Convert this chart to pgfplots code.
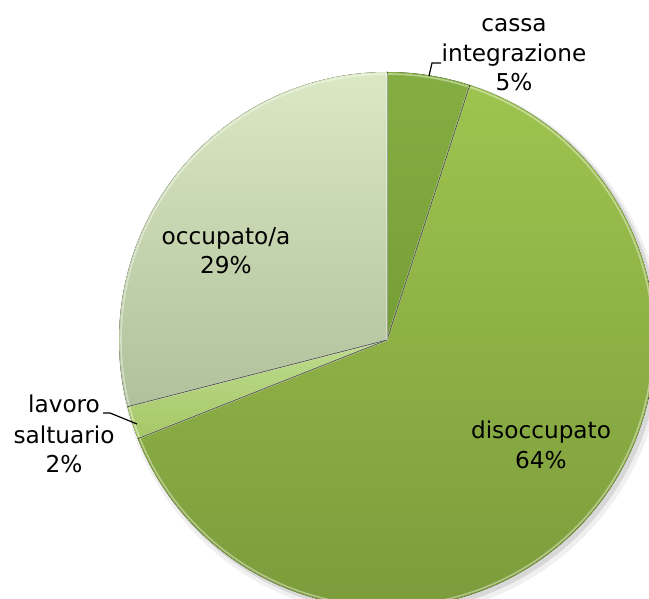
\documentclass[border=0pt]{standalone}
\usepackage{pgfplots}
\usepackage{pgfplotstable}
\pgfplotsset{compat=1.18}
\usepackage{fontspec}
\setmainfont{DejaVu Sans}

\definecolor{slc0top}{HTML}{84AE42}
\definecolor{slc0bot}{HTML}{769E36}
\definecolor{slc1top}{HTML}{9EC44F}
\definecolor{slc1bot}{HTML}{7A993A}
\definecolor{slc2top}{HTML}{BEDC8E}
\definecolor{slc2bot}{HTML}{A6C767}
\definecolor{slc3top}{HTML}{DAE8C3}
\definecolor{slc3bot}{HTML}{B0C19B}

\pgfplotstableread{
label value
cassa 5
disoccupato 64
lavoro 2
occupato 29
}\piedata

\begin{document}
\begin{tikzpicture}
\begin{axis}[
  x=0.75pt, y=0.75pt,
  xmin=0, xmax=649, ymin=0, ymax=599,
  hide axis, clip=true,
  anchor=south west, at={(0,0)},
]
% soft drop shadow
\fill[black, opacity=0.06] (axis cs:391,254) circle[radius=204pt];
\fill[black, opacity=0.10] (axis cs:390,256) circle[radius=202pt];
\pgfmathsetmacro\cum{0}
\pgfplotsforeachungrouped \i in {0,...,3}{%
  \pgfplotstablegetelem{\i}{value}\of\piedata
  \let\v\pgfplotsretval
  \pgfmathsetmacro\sa{90-3.6*\cum}%
  \pgfmathsetmacro\ea{90-3.6*(\cum+\v)}%
  \edef\temp{\noexpand\fill[top color=slc\i top, bottom color=slc\i bot] (axis cs:387,259) -- ++(\sa:201pt) arc[start angle=\sa, end angle=\ea, radius=201pt] -- cycle;
  \noexpand\draw[white, opacity=0.4, line width=1.2pt, line join=round] (axis cs:387,259) -- ++(\sa:199.5pt) arc[start angle=\sa, end angle=\ea, radius=199.5pt] -- cycle;
  \noexpand\draw[black, opacity=0.5, line width=0.7pt] (axis cs:387,259) -- ++(\sa:201pt);}%
  \temp
  \pgfmathsetmacro\cum{\cum+\v}%
}
% labels
\tikzset{lbl/.style={anchor=base, inner sep=0pt, font=\fontsize{17.4}{21}\selectfont, text=black}}
\node[lbl] at (axis cs:514,567) {cassa};
\node[lbl] at (axis cs:514,537) {integrazione};
\node[lbl] at (axis cs:514,508) {5\%};
\draw[black, line width=0.9pt] (axis cs:441,536) -- (axis cs:432,536) -- (axis cs:429,523);
\node[lbl] at (axis cs:226,354) {occupato/a};
\node[lbl] at (axis cs:226,325) {29\%};
\node[lbl] at (axis cs:541,160) {disoccupato};
\node[lbl] at (axis cs:541,130) {64\%};
\node[lbl] at (axis cs:64,186) {lavoro};
\node[lbl] at (axis cs:64,155) {saltuario};
\node[lbl] at (axis cs:64,126) {2\%};
\draw[black, line width=0.9pt] (axis cs:103,186) -- (axis cs:110,186) -- (axis cs:137,175);
\end{axis}
\pgfresetboundingbox
\useasboundingbox (0,0) rectangle (486.75pt,449.25pt);
\end{tikzpicture}
\end{document}
